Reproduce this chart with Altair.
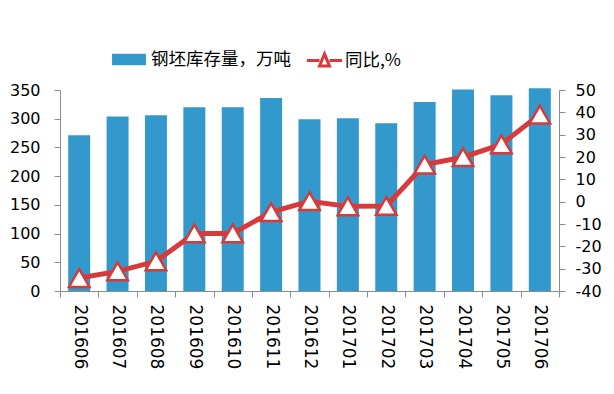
import altair as alt
import pandas as pd

months = ["201606", "201607", "201608", "201609", "201610", "201611", "201612",
          "201701", "201702", "201703", "201704", "201705", "201706"]
stock = [271, 304, 306, 320, 320, 336, 299, 301, 292, 329, 351, 341, 353]
yoy = [-34.2, -31.2, -26.7, -14.2, -14.2, -4.7, 0.2, -2.1, -1.9, 16.6, 19.9, 25.7, 39.0]
bar_name = "钢坯库存量，万吨"
line_name = "同比,%"
left_ticks = [0, 50, 100, 150, 200, 250, 300, 350]
right_ticks = [-40, -30, -20, -10, 0, 10, 20, 30, 40, 50]

df = pd.DataFrame({"month": months, "stock": stock, "yoy": yoy,
                   "s1": bar_name, "s2": line_name})

FONT = "DejaVu Sans"
CJK = "Noto Sans CJK SC"
BLUE = "#3399CC"
RED = "#D63A3A"
GRAY = "#8C8C8C"

x = alt.X("month:N", sort=months, title=None,
          scale=alt.Scale(paddingInner=0, paddingOuter=0),
          axis=alt.Axis(labelAngle=90, tickBand="extent", labelPadding=7, tickSize=6,
                        domainColor=GRAY, tickColor=GRAY, labelFont=FONT,
                        labelFontSize=17, labelColor="black"))

bars = alt.Chart(df).mark_bar(width=alt.RelativeBandSize(0.573)).encode(
    x=x,
    y=alt.Y("stock:Q", title=None,
            scale=alt.Scale(domain=[0, 350], nice=False),
            axis=alt.Axis(orient="left", values=left_ticks, labelPadding=14, tickSize=6,
                          domainColor=GRAY, tickColor=GRAY, labelFont=FONT,
                          labelFontSize=16, labelColor="black")),
    fill=alt.Fill("s1:N", scale=alt.Scale(range=[BLUE]),
                  legend=alt.Legend(title=None, orient="none", legendX=57.5, legendY=-42,
                                    symbolType="M-1.5,-0.5H1.5V0.5H-1.5Z", symbolSize=511,
                                    symbolStrokeWidth=0, labelFont=CJK, labelFontSize=17.5,
                                    labelOffset=10.5, labelColor="black")),
)

yr = alt.Scale(domain=[-40, 50], nice=False)
right_axis = alt.Axis(orient="right", values=right_ticks, labelPadding=10, tickSize=6,
                      domainColor=GRAY, tickColor=GRAY, labelFont=FONT,
                      labelFontSize=16, labelColor="black",
                      labelExpr="'' + datum.value")

line = alt.Chart(df).mark_line(strokeWidth=5).encode(
    x=x,
    y=alt.Y("yoy:Q", title=None, scale=yr, axis=right_axis),
    stroke=alt.Stroke("s2:N", scale=alt.Scale(range=[RED]),
                      legend=alt.Legend(title=None, orient="none", legendX=252, legendY=-42,
                                        symbolType="M-1.6,0H-0.45M0.45,0H1.6M0,-0.6L0.45,0.5L-0.45,0.5Z",
                                        symbolSize=484, symbolStrokeWidth=3,
                                        symbolFillColor="white", labelFont=CJK,
                                        labelFontSize=17.5, labelOffset=8, labelColor="black")),
)

points = alt.Chart(df).mark_point(shape="triangle-up", size=420, filled=True,
                                  fill="white", stroke=RED, strokeWidth=2.5,
                                  opacity=1).encode(
    x=x,
    y=alt.Y("yoy:Q", title=None, scale=yr, axis=right_axis),
)

chart = alt.layer(bars, alt.layer(line, points)).resolve_scale(
    y="independent"
).properties(
    width=499, height=201,
    autosize=alt.AutoSizeParams(type="none"),
    padding={"left": 52, "top": 82, "right": 47, "bottom": 95},
).configure_view(stroke=None).configure_axis(grid=False)

chart.save("out.html", embed_options={"renderer": "svg", "actions": False})
